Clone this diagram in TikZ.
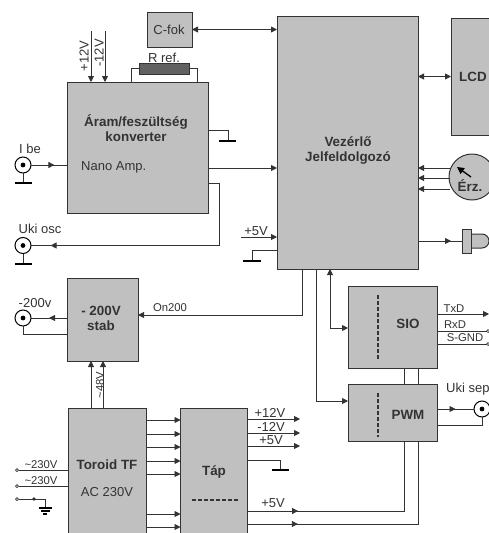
\documentclass[tikz,border=0pt]{standalone}
\usepackage{fontspec}
\setmainfont{Liberation Sans}
\usetikzlibrary{arrows.meta,decorations.markings}
\definecolor{boxgray}{HTML}{C0C0C0}
\definecolor{ink}{HTML}{333333}
\tikzset{
  box/.style={draw=ink,fill=boxgray,line width=1pt,outer sep=0pt,inner sep=0pt},
  wire/.style={draw=ink,line width=0.9pt},
  tipend/.style={-{Triangle[length=6pt,width=6pt]}},
  tipboth/.style={{Triangle[length=6pt,width=6pt]}-{Triangle[length=6pt,width=6pt]}},
  tipat/.style={postaction={decorate,decoration={markings,mark=at position #1 with {\arrow{Triangle[length=6pt,width=6pt]}}}}},
  tiprev/.style={postaction={decorate,decoration={markings,mark=at position #1 with {\arrowreversed{Triangle[length=6pt,width=6pt]}}}}},
  bnc/.style={circle,draw=black,fill=white,line width=1pt,minimum size=16pt,inner sep=0pt,outer sep=0pt},
  gbar/.style={draw=black,line width=1.6pt},
  lab/.style={inner sep=0pt,text=ink,font=\fontsize{13}{15}\selectfont},
  labs/.style={inner sep=0pt,text=ink,font=\fontsize{11.3}{13}\selectfont},
  bold/.style={inner sep=0pt,text=ink,align=center,font=\fontsize{13.4}{15}\selectfont\bfseries},
  dashline/.style={draw=ink,line width=2pt,dash pattern=on 4pt off 2pt},
  term/.style={circle,draw=ink,fill=white,line width=0.7pt,minimum size=3pt,inner sep=0pt,outer sep=0pt}
}
\begin{document}
\begin{tikzpicture}[x=1pt,y=-1pt]
\useasboundingbox (0,0) rectangle (489,533);
\clip (0,0) rectangle (489,533);
\fill[white] (0,0) rectangle (489,533);
% boxes
\node[box,minimum width=45pt,minimum height=35pt] (cfok) at (169.5,29.5) {};
\node[box,minimum width=141pt,minimum height=131pt] (aram) at (138,147.5) {};
\node[box,minimum width=141pt,minimum height=253pt] (vez) at (347.5,142.5) {};
\node[box,minimum width=69pt,minimum height=117pt] (lcd) at (485.5,76.5) {};
\node[box,minimum width=71pt,minimum height=83pt] (stab) at (102.5,319.5) {};
\node[box,minimum width=78pt,minimum height=152pt] (toroid) at (107,484) {};
\node[box,minimum width=66.5pt,minimum height=152pt] (tap) at (213.75,484) {};
\node[box,minimum width=89pt,minimum height=82pt] (sio) at (392.5,327) {};
\node[box,minimum width=89pt,minimum height=57pt] (pwm) at (392.5,412.5) {};
\node[box,circle,minimum size=46pt] (erz) at (472,177) {};
\draw[box] (471,234) -- (482,234) arc[start angle=90,end angle=-90,radius=7pt] -- (471,248) -- cycle;
\node[box,minimum width=9pt,minimum height=24pt] (led) at (466.5,241) {};
\node[box,fill=black!62,minimum width=50pt,minimum height=11pt] (rref) at (164,68.5) {};
% connectors
\draw[wire,tipboth] (cfok.east) -- (vez.west |- cfok.east);
\coordinate (p12) at (91,31); \coordinate (m12) at (105,31);
\draw[wire,tipend] (p12) -- (p12 |- aram.north);
\draw[wire,tipend] (m12) -- (m12 |- aram.north);
\draw[wire] (131,82) |- (rref.west);
\draw[wire] (197,82) |- (rref.east);
\coordinate (g1) at (228,141);
\draw[wire] (aram.east |- 0,130) -| (g1);
\draw[gbar] (219,141) -- (236,141);
\draw[wire,tipend] (aram.east |- 0,168) -- (vez.west |- 0,168);
% bnc
\node[bnc] (ibe) at (23,165) {};
\node[bnc] (ukiosc) at (23,245.5) {};
\node[bnc] (m200) at (23,318) {};
\node[bnc] (ukisep) at (482,409) {};
\foreach \n in {ibe,ukiosc,m200,ukisep} \fill[black] (\n) circle (2.4pt);
\draw[wire,tipat=0.64] (ibe.east) -- (aram.west |- ibe.east);
\draw[wire] (ibe.south) -- (23,183);
\draw[gbar] (15,183) -- (32,183);
\draw[wire] (ukiosc.south) -- (23,264);
\draw[gbar] (15,264) -- (32,264);
\draw[wire,tipat=0.925] (aram.east |- 0,183) -- (219,183) |- (ukiosc.east);
\draw[wire,tiprev=0.5] (m200.east) -- (stab.west |- m200.east);
\draw[wire] (m200.south) |- (stab.west |- 0,334);
% vez
\coordinate (v5) at (241,237);
\draw[wire,tipend] (v5) -- (vez.west |- v5);
\draw[wire] (vez.west |- 0,250) -| (252,261);
\draw[gbar] (243,261) -- (261,261);
\draw[wire,tipboth] (vez.east |- lcd.west) -- (lcd.west);
\foreach \yy in {168,178,189} \draw[wire,tipend] (450,\yy) -- (vez.east |- 0,\yy);
\draw[draw=black,line width=1.3pt,-{Triangle[length=7pt,width=7pt]}] (471,177) -- (457,167);
\draw[wire,tipat=0.75] (vez.east |- led.west) -- (led.west);
\draw[wire,tipend] (302,269) -- (302,315) -- (stab.east |- 0,315);
\draw[wire,tipend] (316,269) |- (pwm.west |- 0,401);
\draw[wire,tipboth] (330,269) |- (sio.west |- 0,328);
\draw[wire] (404,368) -- (404,384);
\draw[wire] (418,368) -- (418,384);
\draw[wire,tiprev=0.775] (404,441) |- (tap.east |- 0,511);
\draw[wire,tiprev=0.8] (418,441) |- (tap.east |- 0,524);
% tap outputs
\foreach \yy in {419,433,446} \draw[wire,tipend] (tap.east |- 0,\yy) -- (300,\yy);
\draw[wire] (tap.east |- 0,460) -| (280,470);
\draw[gbar] (272,470) -- (289,470);
% stab
\draw[wire,tipend] (91,408) -- (91,361);
\draw[wire,tipend] (103,408) -- (103,361);
\foreach \yy in {420,434,447,461,474,514,527} \draw[wire,tipend] (toroid.east |- 0,\yy) -- (tap.west |- 0,\yy);
% mains
\node[term] (t1) at (17,470) {};
\node[term] (t2) at (17,486) {};
\node[term] (t3) at (17,499) {};
\draw[wire] (t1) -- (toroid.west |- t1);
\draw[wire] (t2) -- (toroid.west |- t2);
\draw[wire] (t3) -| (45,508);
\fill[ink] (34,499) circle (1.8pt);
\draw[gbar,line width=1.2pt] (39,508) -- (52,508);
\draw[gbar,line width=1.2pt] (41,511) -- (50,511);
\draw[gbar,line width=1.2pt] (43,514) -- (47,514);
% SIO
\coordinate (txd) at (489,314);
\draw[wire,tipend] (sio.east |- txd) -- (txd);
\node[term] (rxd) at (488,331) {};
\node[term] (sgnd) at (488,344) {};
\draw[wire] (sio.east |- rxd) -- (rxd);
\draw[wire] (sio.east |- sgnd) -- (sgnd);
% PWM
\draw[wire,tipat=0.5] (pwm.east |- ukisep.west) -- (ukisep.west);
\draw[wire] (pwm.east |- 0,425) -| (ukisep.south);
% dashes
\draw[dashline] (378,295) -- (378,359);
\draw[dashline] (378,393) -- (378,437);
\draw[dashline] (192,500) -- (239,500);
% text
\node[lab] (tcfok) at (169,30) {C-fok};
\node[lab,rotate=90] (t12p) at (84,56) {+12V};
\node[lab,rotate=90] (t12m) at (99,53) {-12V};
\node[lab] (trref) at (164,58) {R ref.};
\node[bold] (taram) at (136,128) {Áram/feszültség\\konverter};
\node[lab,anchor=west] (tnano) at (81,167) {Nano Amp.};
\node[lab] (tibe) at (30,149) {I be};
\node[lab] (tuo) at (40,229) {Uki osc};
\node[lab] (t200) at (35,303) {-200v};
\node[lab] (tv5) at (256,231) {+5V};
\node[bold] (tvez) at (348,150.5) {Vezérlő\\Jelfeldolgozó};
\node[bold] (tlcd) at (473,77) {LCD};
\node[bold] (terz) at (470,186) {Érz.};
\node[bold] (tstab) at (101,318) {- 200V\\stab};
\node[labs] (ton) at (170,308) {On200};
\node[labs,rotate=90] (t48) at (100,385) {\textasciitilde 48V};
\node[bold] (ttor) at (107,465) {Toroid TF};
\node[lab] (tac) at (107,492) {AC 230V};
\node[bold] (ttap) at (214,472) {Táp};
\node[labs] (t230a) at (41,465) {\textasciitilde 230V};
\node[labs] (t230b) at (41,481) {\textasciitilde 230V};
\node[bold] (tsio) at (408,324) {SIO};
\node[bold] (tpwm) at (408,415) {PWM};
\node[labs] (ttx) at (454,309) {TxD};
\node[labs] (trx) at (455,325) {RxD};
\node[labs] (tsg) at (465,338) {S-GND};
\node[lab,anchor=west] (tsep) at (446,389) {Uki sep};
\node[lab] (tp12) at (270,413) {+12V};
\node[lab] (tm12) at (271,427) {-12V};
\node[lab] (tp5) at (271,440) {+5V};
\node[lab] (tp5b) at (273,503) {+5V};
\end{tikzpicture}
\end{document}
